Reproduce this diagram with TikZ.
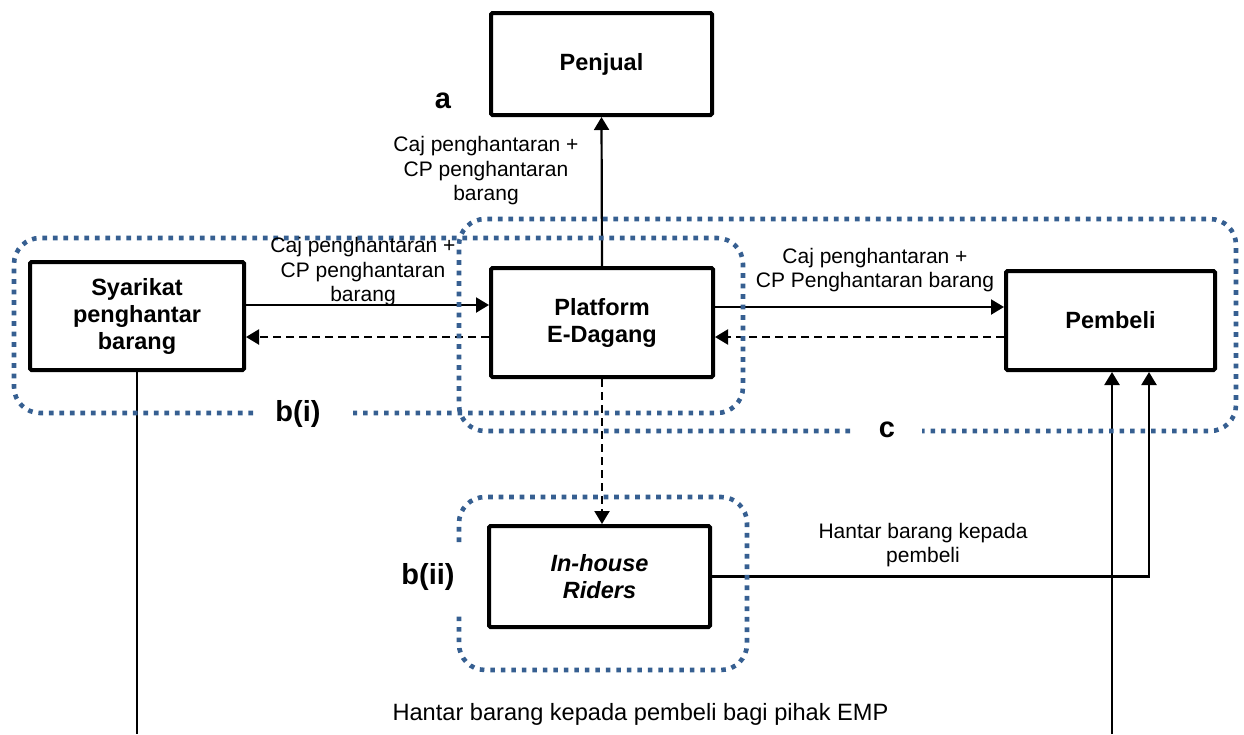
\documentclass[tikz,border=0pt]{standalone}
\usepackage{fontspec}
\setmainfont{Liberation Sans}
\usetikzlibrary{arrows.meta}
\definecolor{dotblue}{RGB}{54,95,145}
\begin{document}
\begin{tikzpicture}[x=1pt,y=-1pt,
  boxnode/.style={draw,line width=4pt,rounded corners=1.5pt,inner sep=0pt,align=center,font=\fontsize{23.5}{27}\selectfont\bfseries},
  lbl/.style={inner sep=0pt,align=center,font=\fontsize{21}{24.5}\selectfont},
  biglbl/.style={inner sep=0pt,align=center,font=\fontsize{23.6}{27}\selectfont},
  tag/.style={inner sep=0pt,font=\fontsize{29}{33}\selectfont\bfseries},
  conn/.style={line width=2.2pt,-{Triangle[length=13pt,width=15pt]}},
  dconn/.style={conn,dash pattern=on 8pt off 5pt},
  plainline/.style={line width=2.2pt},
  group/.style={dotblue,line width=4.6pt,dash pattern=on 4.6pt off 5.9pt,rounded corners=26pt}]
\useasboundingbox (0,0) rectangle (1244,734);

% boxes
\node[boxnode,minimum width=221pt,minimum height=102pt] (penjual) at (601.5,64) {Penjual};
\node[boxnode,minimum width=214pt,minimum height=108pt] (syarikat) at (137,316) {Syarikat\\penghantar\\barang};
\node[boxnode,minimum width=222pt,minimum height=109pt] (platform) at (602,322.5) {Platform\\E-Dagang};
\node[boxnode,minimum width=209pt,minimum height=99pt] (pembeli) at (1110.5,320.5) {Pembeli};
\node[boxnode,minimum width=221pt,minimum height=101pt] (riders) at (599.5,576.5) {\itshape In-house\\\itshape Riders};

% helper coordinates
\coordinate (ysolidL) at (0,305);
\coordinate (ysolidR) at (0,307);
\coordinate (ydash) at (0,337);
\coordinate (bot) at (0,734);
\coordinate (rturn) at (1149,0);

% connectors
\draw[conn] (platform.north) -- (penjual.south);
\draw[conn] (syarikat.east |- ysolidL) -- (platform.west |- ysolidL);
\draw[dconn] (platform.west |- ydash) -- (syarikat.east |- ydash);
\draw[conn] (platform.east |- ysolidR) -- (pembeli.west |- ysolidR);
\draw[dconn] (pembeli.west |- ydash) -- (platform.east |- ydash);
\draw[dconn] (platform.south) -- (platform.south |- riders.north);
\draw[conn] (riders.east) -| (rturn |- pembeli.south);
\draw[plainline] (syarikat.south) -- (syarikat.south |- bot);
\draw[conn] ([xshift=1.5pt]pembeli.south |- bot) -- ([xshift=1.5pt]pembeli.south);

% dotted groups
\draw[group] (253,413) -- (14,413) -- (14,238) -- (743,238) -- (743,413) -- (353,413);
\draw[group] (850,431) -- (459,431) -- (459,219) -- (1236,219) -- (1236,431) -- (922,431);
\draw[group] (459,542) -- (459,497) -- (747,497) -- (747,670) -- (459,670) -- (459,613);

% labels
\node[lbl] (l1) at (486,171) {Caj penghantaran +\\CP penghantaran\\barang};
\node[lbl] (l2) at (363,272) {Caj penghantaran +\\CP penghantaran\\barang};
\node[lbl] (l3) at (875,270) {Caj penghantaran +\\CP Penghantaran barang};
\node[lbl] (l4) at (923,545) {Hantar barang kepada\\pembeli};
\node[biglbl] (l5) at (640.5,714) {Hantar barang kepada pembeli bagi pihak EMP};

% tags
\node[tag] (ta) at (443,101) {a};
\node[tag] (tbi) at (298,414) {b(i)};
\node[tag] (tc) at (887,430) {c};
\node[tag] (tbii) at (428,577) {b(ii)};
\end{tikzpicture}
\end{document}
